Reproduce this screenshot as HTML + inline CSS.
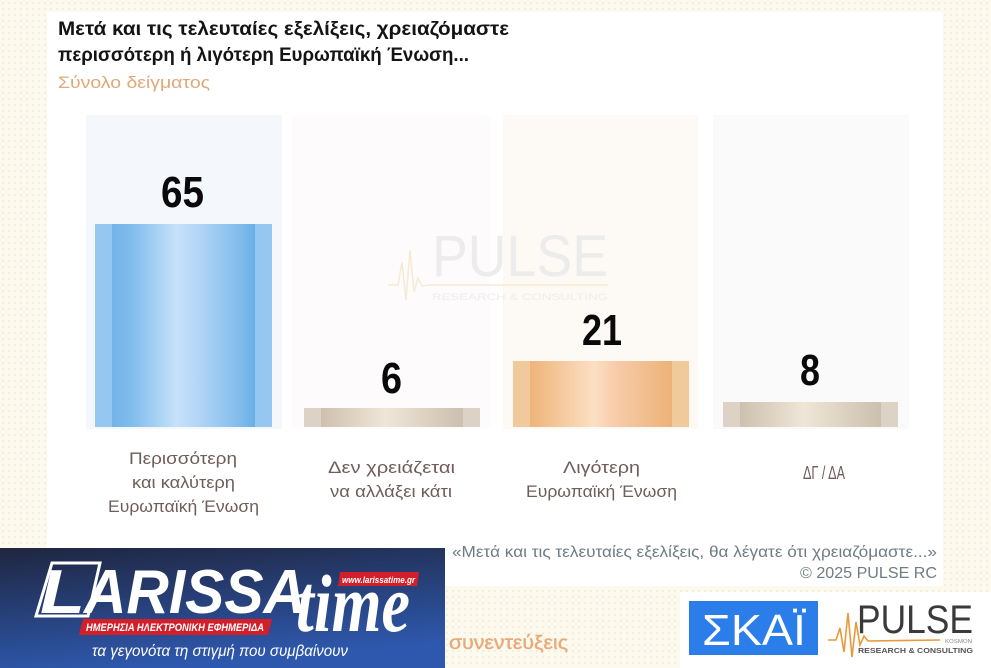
<!DOCTYPE html>
<html><head><meta charset="utf-8">
<style>
html,body{margin:0;padding:0;background:#fbf8ea;}
svg{display:block;}
</style></head>
<body>
<svg width="991" height="668" viewBox="0 0 991 668" xmlns="http://www.w3.org/2000/svg" font-family="'Liberation Sans', 'Noto Sans CJK SC', sans-serif">
<defs>
<pattern id="dots" width="6" height="6" patternUnits="userSpaceOnUse">
<rect width="6" height="6" fill="#fcfaef"/>
<circle cx="3" cy="3" r="1.1" fill="#f5eed6"/>
</pattern>
<linearGradient id="gBlue" x1="0" x2="1" y1="0" y2="0">
<stop offset="0" stop-color="#72b3e8"/>
<stop offset="0.15" stop-color="#84bdec"/>
<stop offset="0.45" stop-color="#c6e1fa"/>
<stop offset="0.6" stop-color="#b4d6f6"/>
<stop offset="0.9" stop-color="#80bbec"/>
<stop offset="1" stop-color="#6aaee6"/>
</linearGradient>
<linearGradient id="gOr" x1="0" x2="1" y1="0" y2="0">
<stop offset="0" stop-color="#eeb479"/>
<stop offset="0.45" stop-color="#fcdfc4"/>
<stop offset="0.6" stop-color="#f7ccaa"/>
<stop offset="1" stop-color="#edb277"/>
</linearGradient>
<linearGradient id="gBg" x1="0" x2="1" y1="0" y2="0">
<stop offset="0" stop-color="#cdc0ae"/>
<stop offset="0.45" stop-color="#efe6d8"/>
<stop offset="0.6" stop-color="#e6dccd"/>
<stop offset="1" stop-color="#cbbfad"/>
</linearGradient>
<linearGradient id="gBan" x1="0" x2="0.3" y1="0" y2="1">
<stop offset="0" stop-color="#1f2640"/>
<stop offset="1" stop-color="#2e58ad"/>
</linearGradient>
</defs>

<rect x="0" y="0" width="991" height="668" fill="url(#dots)"/>
<rect x="47" y="12" width="896" height="574" fill="#ffffff"/>
<rect x="680" y="592" width="311" height="76" fill="#ffffff"/>

<!-- Title -->
<text x="58" y="35" font-size="19" font-weight="bold" fill="#141414" textLength="451" lengthAdjust="spacingAndGlyphs">Μετά και τις τελευταίες εξελίξεις, χρειαζόμαστε</text>
<text x="58" y="61" font-size="19" font-weight="bold" fill="#141414" textLength="411" lengthAdjust="spacingAndGlyphs">περισσότερη ή λιγότερη Ευρωπαϊκή Ένωση...</text>
<text x="58" y="88" font-size="17" fill="#e0a877" textLength="152" lengthAdjust="spacingAndGlyphs">Σύνολο δείγματος</text>

<!-- Column backgrounds -->
<rect x="86" y="115" width="196" height="314" fill="#f4f8fd"/>
<rect x="292" y="115" width="198" height="314" fill="#fdfbfb"/>
<rect x="503" y="115" width="195" height="314" fill="#fdf9f5"/>
<rect x="713" y="115" width="196" height="314" fill="#fbfafa"/>

<!-- Watermark -->
<polyline points="388,285 398,285 402,262 406,300 410,250 414,292 418,278 422,286 430,285 608,285" fill="none" stroke="#f6ead2" stroke-width="1.5"/>
<text x="432" y="276" font-size="58" fill="#ececec" textLength="176" lengthAdjust="spacingAndGlyphs">PULSE</text>
<text x="432" y="300" font-size="9" fill="#ededed" textLength="176" lengthAdjust="spacingAndGlyphs">RESEARCH &amp; CONSULTING</text>

<!-- Bars -->
<rect x="95" y="224" width="177" height="203" fill="#95c7f0"/>
<rect x="112" y="224" width="143" height="203" fill="url(#gBlue)"/>

<rect x="304" y="408" width="176" height="19" fill="#dcd3c6"/>
<rect x="321" y="408" width="142" height="19" fill="url(#gBg)"/>

<rect x="513" y="361" width="176" height="66" fill="#f1ca9c"/>
<rect x="530" y="361" width="142" height="66" fill="url(#gOr)"/>

<rect x="723" y="402" width="175" height="25" fill="#dcd3c6"/>
<rect x="740" y="402" width="141" height="25" fill="url(#gBg)"/>

<!-- Values -->
<text x="161" y="207" font-size="44" font-weight="bold" fill="#0a0a0a" textLength="43" lengthAdjust="spacingAndGlyphs">65</text>
<text x="381" y="393" font-size="44" font-weight="bold" fill="#0a0a0a" textLength="21" lengthAdjust="spacingAndGlyphs">6</text>
<text x="582" y="345" font-size="44" font-weight="bold" fill="#0a0a0a" textLength="40" lengthAdjust="spacingAndGlyphs">21</text>
<text x="800" y="385" font-size="44" font-weight="bold" fill="#0a0a0a" textLength="20" lengthAdjust="spacingAndGlyphs">8</text>

<!-- Category labels -->
<g font-size="17" fill="#6e5d58">
<text x="129" y="464" textLength="108" lengthAdjust="spacingAndGlyphs">Περισσότερη</text>
<text x="132" y="488" textLength="103" lengthAdjust="spacingAndGlyphs">και καλύτερη</text>
<text x="108" y="512" textLength="151" lengthAdjust="spacingAndGlyphs">Ευρωπαϊκή Ένωση</text>
<text x="328" y="473" textLength="127" lengthAdjust="spacingAndGlyphs">Δεν χρειάζεται</text>
<text x="330" y="497" textLength="122" lengthAdjust="spacingAndGlyphs">να αλλάξει κάτι</text>
<text x="563" y="473" textLength="77" lengthAdjust="spacingAndGlyphs">Λιγότερη</text>
<text x="526" y="497" textLength="151" lengthAdjust="spacingAndGlyphs">Ευρωπαϊκή Ένωση</text>
<text x="803" y="479" font-size="18" textLength="42" lengthAdjust="spacingAndGlyphs">ΔΓ / ΔΑ</text>
</g>

<!-- Footer notes -->
<text x="452" y="557" font-size="16" fill="#6f7c82" textLength="485" lengthAdjust="spacingAndGlyphs">«Μετά και τις τελευταίες εξελίξεις, θα λέγατε ότι χρειαζόμαστε...»</text>
<text x="800" y="578" font-size="16" fill="#6f7c82" textLength="137" lengthAdjust="spacingAndGlyphs">©  2025  PULSE RC</text>
<text x="449" y="649" font-size="19" fill="#eaa97a" stroke="#eaa97a" stroke-width="0.4" textLength="119" lengthAdjust="spacingAndGlyphs">συνεντεύξεις</text>

<!-- LarissaTime banner -->
<rect x="0" y="548" width="445" height="120" fill="url(#gBan)"/>
<polygon points="52,563 100,563 88,616 36,616" fill="none" stroke="#ffffff" stroke-width="3"/>
<text x="40" y="613" font-size="62" font-weight="bold" font-style="italic" fill="#ffffff" textLength="45" lengthAdjust="spacingAndGlyphs">L</text>
<text x="84" y="613" font-size="62" font-weight="bold" font-style="italic" fill="#ffffff" textLength="222" lengthAdjust="spacingAndGlyphs">ARISSA</text>
<text x="296" y="631" font-size="82" font-weight="bold" font-style="italic" fill="#ffffff" font-family="'Liberation Serif', serif" textLength="114" lengthAdjust="spacingAndGlyphs">time</text>
<polygon points="340,572 419,572 417,586 338,586" fill="#d21f2a"/>
<text x="342" y="583" font-size="9.5" font-weight="bold" font-style="italic" fill="#ffffff" textLength="73" lengthAdjust="spacingAndGlyphs">www.larissatime.gr</text>
<polygon points="83,619 272,619 268,635 79,635" fill="#d21f2a"/>
<text x="86" y="631" font-size="11.5" font-weight="bold" font-style="italic" fill="#ffffff" textLength="178" lengthAdjust="spacingAndGlyphs">ΗΜΕΡΗΣΙΑ ΗΛΕΚΤΡΟΝΙΚΗ ΕΦΗΜΕΡΙΔΑ</text>
<text x="92" y="656" font-size="15.5" font-style="italic" fill="#ffffff" textLength="256" lengthAdjust="spacingAndGlyphs">τα γεγονότα τη στιγμή που συμβαίνουν</text>

<!-- SKAI logo -->
<rect x="689" y="601" width="129" height="54" fill="#2b7de9"/>
<text x="702" y="645" font-size="44" fill="#ffffff" textLength="104" lengthAdjust="spacingAndGlyphs">ΣΚΑΪ</text>

<!-- PULSE logo -->
<polyline points="828,640 836,640 840,628 844,652 848,613 852,657 856,622 860,645 864,636 868,641 940,640" fill="none" stroke="#e89a3a" stroke-width="1.6"/>
<text x="857" y="633" font-size="40" fill="#3a3a3a" textLength="116" lengthAdjust="spacingAndGlyphs">PULSE</text>
<text x="945" y="643" font-size="5" fill="#8a8a8a" textLength="27" lengthAdjust="spacingAndGlyphs">KOSMON</text>
<text x="858" y="653" font-size="7.5" font-weight="bold" fill="#555555" textLength="115" lengthAdjust="spacingAndGlyphs">RESEARCH &amp; CONSULTING</text>
</svg>
</body></html>
